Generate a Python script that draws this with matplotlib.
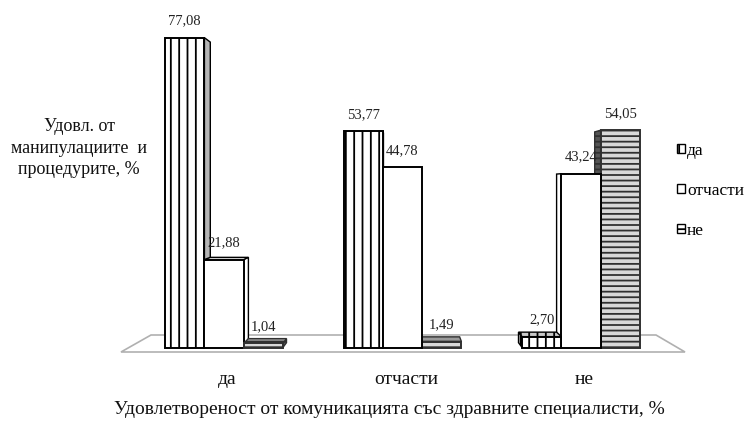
import matplotlib
matplotlib.use("Agg")
import matplotlib.pyplot as plt
from matplotlib.patches import Polygon, Patch
import numpy as np

plt.rcParams['font.family'] = ['Liberation Serif', 'DejaVu Serif']
plt.rcParams['hatch.linewidth'] = 1.3

# ---- data ----
categories = ['да', 'отчасти', 'не']
series_names = ['да', 'отчасти', 'не']
values_da = [77.08, 53.77, 2.70]
values_otchasti = [21.88, 44.78, 43.24]
values_ne = [1.04, 1.49, 54.05]
value_labels_da = ['77,08', '53,77', '2,70']
value_labels_otchasti = ['21,88', '44,78', '43,24']
value_labels_ne = ['1,04', '1,49', '54,05']
y_title = 'Удовл. от\nманипулациите  и\nпроцедурите, %'
x_title = 'Удовлетвореност от комуникацията със здравните специалисти, %'

W, H = 747, 422
fig = plt.figure(figsize=(W / 100, H / 100), dpi=100)
ax = fig.add_axes([0, 0, 1, 1])
ax.set_axis_off()

# pixel <-> data mapping
PX_X = 178.5      # px per category unit
X0 = 224.0        # px of category 0
PX_Y = 4.02       # px per value unit
BASE = 347.5      # px (from top) of value 0
ax.set_xlim(-X0 / PX_X, (W - X0) / PX_X)
ax.set_ylim((BASE - H) / PX_Y, BASE / PX_Y)

def dx(p):
    return (p - X0) / PX_X

def dy(p):
    return (BASE - p) / PX_Y

# perspective parameters (eye point, depth factor)
EX, EY, F = 1.0, 40.0, 0.03

def back(x, y):
    return x + (EX - x) * F, y + (EY - y) * F

# floor
floor = Polygon([(dx(121), dy(352)), (dx(685), dy(352)), (dx(656), dy(335)), (dx(151), dy(335))],
                closed=True, facecolor='white', edgecolor='#b0b0b0', lw=1.2, zorder=1)
ax.add_patch(floor)

styles = [
    dict(face='white', side='#b5b5b5', top='#c8c8c8', hatch='||', edge='black'),
    dict(face='white', side='white', top='white', hatch=None, edge='black'),
    dict(face='#d8d8d8', side='#555555', top='#9a9a9a', hatch='---', edge='#303030'),
]
all_vals = [values_da, values_otchasti, values_ne]
all_labs = [value_labels_da, value_labels_otchasti, value_labels_ne]
bw = 0.22
x = np.arange(len(categories))

bars = []
for s in range(3):
    for g in range(3):
        xc = x[g] + (s - 1) * bw
        bars.append((s, g, xc, all_vals[s][g]))
# painter's order: farthest from eye x first
bars.sort(key=lambda b: -abs(b[2] - EX))

for k, (s, g, xc, v) in enumerate(bars):
    st = styles[s]
    z = 2 + k * 0.1
    xl, xr = xc - bw / 2, xc + bw / 2
    # side face
    xe = xr if xc < EX else xl
    b0x, b0y = back(xe, 0)
    bvx, bvy = back(xe, v)
    side = Polygon([(xe, 0), (xe, v), (bvx, bvy), (b0x, b0y)], closed=True,
                   facecolor=st['side'], edgecolor=st['edge'], lw=1.0,
                   hatch=st['hatch'], zorder=z)
    ax.add_patch(side)
    # top face (visible when below eye level)
    if v < EY:
        tlx, tly = back(xl, v)
        trx, try_ = back(xr, v)
        top = Polygon([(xl, v), (xr, v), (trx, try_), (tlx, tly)], closed=True,
                      facecolor=st['top'], edgecolor=st['edge'], lw=1.0,
                      hatch=st['hatch'], zorder=z)
        ax.add_patch(top)
    ax.bar(xc, v, width=bw, bottom=0, color=st['face'], edgecolor=st['edge'],
           linewidth=1.4, hatch=st['hatch'], zorder=z + 0.05)
    ax.text(xc, v + 4.2, all_labs[s][g], ha='center', va='center',
            fontsize=10.5, color='#222222', zorder=10)

# category labels
for i, c in enumerate(categories):
    ax.text(x[i] + 0.02, dy(379), c, ha='center', va='center', fontsize=14, color='#111111')

# axis titles
fig.text(389 / W, 1 - 410 / H, x_title, ha='center', va='center', fontsize=14, color='#111111')
fig.text(79 / W, 1 - 148 / H, y_title, ha='center', va='center', fontsize=13,
         color='#111111', linespacing=1.38, multialignment='center')

# legend
legend_hatches = ['||', None, '--']
handles = [Patch(facecolor='white', edgecolor='black', hatch=legend_hatches[i], lw=1.0)
           for i in range(3)]
leg = ax.legend(handles, series_names, loc='upper left',
                bbox_to_anchor=(677 / W, 1 - 143 / H), bbox_transform=fig.transFigure,
                frameon=False, fontsize=12.5, handlelength=0.45, handleheight=0.45,
                handletextpad=0.12, labelspacing=1.37, borderaxespad=0, borderpad=0)

fig.savefig('out.png', dpi=100, facecolor='white')
